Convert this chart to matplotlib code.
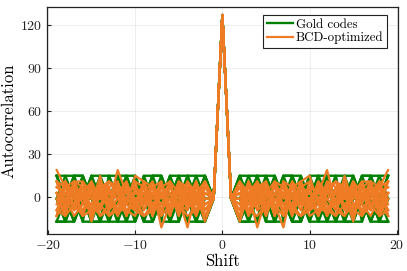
import numpy as np
import matplotlib
matplotlib.use("Agg")
import matplotlib.pyplot as plt

# periodic autocorrelation, length-127 sequences; stored for shifts 1..19 (mirrored for negative shifts)
peak = 127

gold_sidelobes = [
    [-1, 15, -1, 15, -1, -1, 15, -1, 15, -17, -1, 15, -1, -1, 15, -1, -17, -1, 15],
    [-1, -1, 15, 15, -17, 15, -1, 15, -1, -1, 15, 15, 15, -17, -1, 15, 15, 15, -1],
    [-1, -17, -1, -17, -1, 15, -1, -17, -1, 15, -17, -1, -17, -1, 15, -1, -17, -1, -17],
    [-1, -1, -17, -17, -1, -17, -17, -1, -1, -17, -17, -1, -17, 15, -17, -17, -1, -17, -17],
    [-1, 15, 15, -1, 15, 15, -17, 15, 15, -1, 15, -17, -1, 15, 15, -17, 15, -1, 15],
    [-1, -17, -1, -17, 15, -1, -1, -17, -17, -1, -1, 15, -17, -17, -17, -1, 15, -17, -1],
    [-1, 15, -17, -1, -1, -17, 15, 15, -1, -17, 15, -1, 15, -17, -1, -1, -1, 15, 15],
    [-1, -17, -17, 15, -17, -17, -1, -1, -17, 15, -1, -17, -17, -1, -17, 15, -1, -17, -17],
    [-1, 15, -1, 15, 15, -1, 15, 15, -1, 15, 15, -1, 15, 15, -1, 15, 15, -1, 15],
    [-1, -17, -17, -1, -17, -17, -1, -17, -17, -1, -17, -17, -1, -17, -17, -1, -17, -17, -1],
]

bcd_sidelobes = [
    [-1, -1, 7, -5, 3, -9, 11, -1, -5, 7, 3, 19, -5, 11, -1, 3, -9, 7, 19],
    [-1, -17, 3, -21, -1, 7, -5, 3, -9, 11, -1, 7, 3, -5, -9, -1, 11, -5, 3],
    [-1, 7, -9, 3, 11, -5, -21, 7, -1, -5, 11, -1, -9, 3, -17, 7, -1, 11, -5],
    [-1, 3, -1, 11, -5, 3, 7, -13, 3, -1, -13, 3, 11, -1, 7, -13, 3, -1, 11],
    [-1, -5, 11, -1, 7, -13, 3, -5, 11, 15, -5, -9, -1, 7, 3, 11, -5, 3, -9],
    [-1, 11, -5, 3, -13, 11, -1, 7, -5, -1, 7, -5, -13, 15, -5, -1, 7, -9, -1],
    [-1, -9, -1, 7, 3, -1, -9, 11, 3, -9, -5, 11, 7, -9, 11, -5, -9, 3, 7],
    [-1, -1, 3, -9, -5, 7, 3, -1, 7, 3, -1, -13, -1, 3, -1, 7, 11, -13, -1],
    [-1, 3, -13, -1, -9, 3, 7, -9, -13, -1, 3, -1, 3, -1, 3, -9, -1, 7, -13],
    [-1, -5, 7, -5, 11, -5, -13, 3, -1, -13, -9, 7, -5, -13, 3, -5, -13, -1, 3],
    [-1, 7, 3, 11, -1, 7, 3, -5, 7, 11, -1, 3, -5, -1, 11, 3, 7, -5, 11],
    [-1, -9, -5, -1, -9, -1, -5, -9, -13, -5, -9, -9, -13, -5, -9, -13, -5, -13, -9],
    [-1, 11, -13, 7, -9, 11, -13, 3, -9, 7, -13, 11, -9, 7, -13, 3, -9, 11, -13],
    [-1, -13, 11, -9, 7, -13, 11, -9, 7, -9, 11, -13, 7, -9, 11, -13, 7, -9, 11],
    [-1, 3, 7, -1, 3, 11, 7, 3, -1, 7, 3, 7, 11, 3, 7, -1, 3, 11, 7],
    [-1, -5, -9, -13, -5, -1, -9, -5, -13, -9, -5, -1, -9, -13, -5, -9, -1, -5, -13],
    [-1, 7, -5, 11, -13, 3, -9, 11, -5, 7, -13, 3, 11, -9, 7, -5, 11, -13, 3],
    [-1, -9, 11, -5, 7, -9, 3, -13, 11, -5, 7, -9, 3, 11, -13, 7, -5, 3, -9],
    [-1, 3, -1, -5, 3, -1, -5, 3, -1, 3, -5, -1, 3, -5, -1, 3, -5, -1, 3],
    [-1, 11, 3, 7, 11, -13, 11, 7, 11, -9, 11, 3, 11, 7, -9, 11, 11, 7, 11],
]

shifts = np.arange(-19, 20)


def full_curve(side):
    side = np.asarray(side)
    return np.concatenate([side[::-1], [peak], side])


plt.rcParams["font.family"] = "serif"
plt.rcParams["font.serif"] = ["cmr10"]
plt.rcParams["mathtext.fontset"] = "cm"
plt.rcParams["axes.formatter.use_mathtext"] = True

fig = plt.figure(figsize=(4.07, 2.71), dpi=100)
ax = fig.add_axes([0.1147, 0.1365, 0.8633, 0.8377])

green = "#008000"
orange = "#ef7b24"

for i, side in enumerate(gold_sidelobes):
    ax.plot(shifts, full_curve(side), color=green, lw=1.7,
            label="Gold codes" if i == 0 else None)
for i, side in enumerate(bcd_sidelobes):
    ax.plot(shifts, full_curve(side), color=orange, lw=1.6,
            label="BCD-optimized" if i == 0 else None)

ax.set_xlim(-20.14, 20.14)
ax.set_ylim(-25.6, 132.6)
ax.set_xticks([-20, -10, 0, 10, 20])
ax.set_yticks([0, 30, 60, 90, 120])
ax.grid(True, color="#000000", alpha=0.08, lw=0.6)
ax.tick_params(direction="in", length=3, width=0.8, labelsize=10, colors="#222222")
for s in ax.spines.values():
    s.set_color("#222222")
    s.set_linewidth(0.9)

ax.set_xlabel("Shift", fontsize=12, labelpad=1)
ax.set_ylabel("Autocorrelation", fontsize=12, labelpad=2)

leg = ax.legend(loc="upper right", bbox_to_anchor=(0.969, 0.965), borderaxespad=0,
                fontsize=9.3, handlelength=2.0, handletextpad=0.2, labelspacing=0.05,
                borderpad=0.3, fancybox=False, framealpha=1, edgecolor="#222222")
leg.get_frame().set_linewidth(0.8)

fig.savefig("out.png", dpi=100)
